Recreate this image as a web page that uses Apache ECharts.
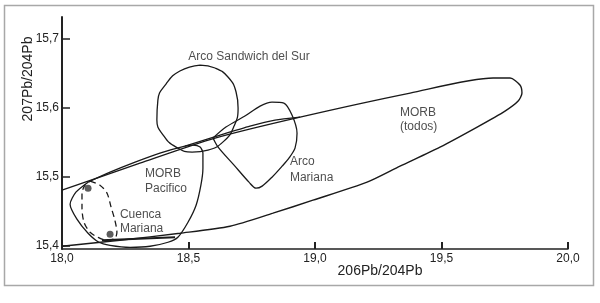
<!DOCTYPE html>
<html>
<head>
<meta charset="utf-8">
<script src="https://cdn.jsdelivr.net/npm/echarts@6/dist/echarts.min.js"></script>
<style>
  html, body { margin: 0; padding: 0; background: #fff; }
  #chart { width: 600px; height: 303px; }
</style>
</head>
<body>
<div id="chart"></div>
<script>
// fields, [206Pb/204Pb, 207Pb/204Pb]
var morbTodos = [
  [18.000, 15.4804], [18.308, 15.5197], [18.605, 15.5561], [18.941, 15.5866],
  [19.376, 15.6215], [19.704, 15.6433], [19.771, 15.6433], [19.810, 15.6332],
  [19.818, 15.6215], [19.803, 15.6099], [19.751, 15.5953], [19.641, 15.5721],
  [19.494, 15.5430], [19.336, 15.5153], [19.206, 15.4921], [18.992, 15.4659],
  [18.834, 15.4470], [18.664, 15.4281], [18.466, 15.4179], [18.229, 15.4077],
  [18.000, 15.3990]
]
var pacificoTop = [
  [18.486, 15.5444], [18.625, 15.5604], [18.743, 15.5735], [18.842, 15.5823], [18.941, 15.5866]
]
var morbPacifico = [
  [18.103, 15.4921], [18.190, 15.5066], [18.289, 15.5212], [18.387, 15.5343],
  [18.486, 15.5444], [18.518, 15.5459], [18.546, 15.5430], [18.557, 15.5343],
  [18.557, 15.5124], [18.549, 15.4877], [18.530, 15.4586], [18.498, 15.4339],
  [18.458, 15.4121], [18.419, 15.4048], [18.348, 15.3990], [18.269, 15.3975],
  [18.190, 15.4004], [18.146, 15.4048], [18.103, 15.4179], [18.059, 15.4383],
  [18.032, 15.4601], [18.055, 15.4775], [18.103, 15.4921]
]
var pacificoBase = [[18.158, 15.4077], [18.447, 15.4121]]
var cuencaMariana = [
  [18.111, 15.4935], [18.150, 15.4877], [18.178, 15.4761], [18.194, 15.4557],
  [18.209, 15.4368], [18.217, 15.4193], [18.209, 15.4106], [18.178, 15.4077],
  [18.142, 15.4121], [18.111, 15.4193], [18.087, 15.4339], [18.079, 15.4557],
  [18.079, 15.4761], [18.091, 15.4877], [18.111, 15.4935]
]
var cuencaPoints = [[18.103, 15.4833], [18.190, 15.4164]]
var sandwich = [
  [18.546, 15.6622], [18.605, 15.6579], [18.656, 15.6448], [18.688, 15.6230],
  [18.696, 15.5997], [18.680, 15.5735], [18.640, 15.5517], [18.577, 15.5386],
  [18.514, 15.5357], [18.451, 15.5430], [18.403, 15.5590], [18.375, 15.5823],
  [18.379, 15.6113], [18.411, 15.6346], [18.466, 15.6535], [18.546, 15.6622]
]
var arcoMariana = [
  [18.597, 15.5561], [18.648, 15.5721], [18.723, 15.5881], [18.783, 15.6026],
  [18.830, 15.6084], [18.877, 15.6070], [18.909, 15.5895], [18.929, 15.5633],
  [18.921, 15.5415], [18.897, 15.5270], [18.870, 15.5153], [18.830, 15.4993],
  [18.791, 15.4863], [18.767, 15.4833], [18.739, 15.4921], [18.680, 15.5168],
  [18.617, 15.5430], [18.597, 15.5561]
]
var leftLabels = [
  [18.328, 15.5037, 'MORB'], [18.328, 15.4833, 'Pacifico'],
  [18.229, 15.4455, 'Cuenca'], [18.229, 15.4252, 'Mariana'],
  [18.901, 15.5212, 'Arco'], [18.901, 15.4993, 'Mariana'],
  [19.336, 15.5924, 'MORB'], [19.336, 15.5721, '(todos)']
]
var centerLabels = [[18.739, 15.6739, 'Arco Sandwich del Sur']]
var yTicks = [15.4, 15.5, 15.6, 15.7]

var chart = echarts.init(document.getElementById('chart'))

function outline(data, smooth, width) {
  return {
    type: 'line',
    data: data,
    smooth: smooth,
    symbol: 'none',
    silent: true,
    lineStyle: { color: '#1a1a1a', width: width || 1.3 }
  }
}

var dashed = outline(cuencaMariana, 0.3, 1.3)
dashed.lineStyle.type = [6, 4]

var fmt = function (v) { return Number(v).toFixed(1).replace('.', ',') }
var font = 'Liberation Sans, Arial, sans-serif'

var option = {
  animation: false,
  backgroundColor: '#fff',
  grid: { left: 62, right: 32, top: 17, bottom: 54 },
  xAxis: {
    type: 'value',
    min: 18,
    max: 20,
    interval: 0.5,
    axisLine: { lineStyle: { color: '#222', width: 1.5 } },
    axisTick: { inside: true, length: 7, lineStyle: { color: '#222', width: 2 } },
    axisLabel: { formatter: fmt, color: '#222', fontSize: 12, fontFamily: font, margin: 4 },
    splitLine: { show: false }
  },
  yAxis: {
    type: 'value',
    min: 15.395,
    max: 15.732,
    axisLine: { show: true, lineStyle: { color: '#222', width: 2 } },
    axisTick: { inside: true, length: 8, customValues: yTicks, lineStyle: { color: '#222', width: 1.5 } },
    axisLabel: { customValues: yTicks, formatter: fmt, color: '#222', fontSize: 12, fontFamily: font, margin: 3 },
    splitLine: { show: false }
  },
  graphic: [
    { type: 'rect', shape: { x: 4.5, y: 5.5, width: 589, height: 280 },
      style: { fill: 'none', stroke: '#a8a8a8', lineWidth: 1.5 }, silent: true },
    { type: 'text', x: 28, y: 79, rotation: Math.PI / 2,
      style: { text: '207Pb/204Pb', fill: '#222', font: '14px ' + font, align: 'center', verticalAlign: 'middle' } },
    { type: 'text', x: 380, y: 271,
      style: { text: '206Pb/204Pb', fill: '#222', font: '14px ' + font, align: 'center', verticalAlign: 'middle' } }
  ],
  series: [
    outline(morbTodos, 0.25, 1.4),
    outline(pacificoTop, 0.2),
    outline(morbPacifico, 0.25),
    outline(pacificoBase, false, 2),
    dashed,
    outline(sandwich, 0.5),
    outline(arcoMariana, 0.3),
    {
      type: 'scatter',
      data: cuencaPoints,
      symbolSize: 7,
      itemStyle: { color: '#333' },
      silent: true
    },
    {
      type: 'scatter',
      data: leftLabels,
      symbolSize: 0,
      silent: true,
      label: {
        show: true, position: 'right', distance: 0,
        formatter: function (p) { return p.data[2] },
        color: '#222', fontSize: 12, fontFamily: font
      }
    },
    {
      type: 'scatter',
      data: centerLabels,
      symbolSize: 0,
      silent: true,
      label: {
        show: true, position: 'inside',
        formatter: function (p) { return p.data[2] },
        color: '#222', fontSize: 12, fontFamily: font
      }
    }
  ]
}

chart.setOption(option)
</script>
</body>
</html>
